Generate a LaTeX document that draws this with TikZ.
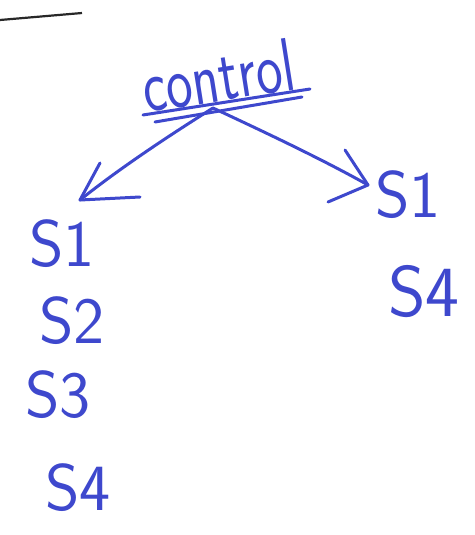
\documentclass[tikz,border=0pt]{standalone}
\usepackage{fontspec}
\begin{document}
\begin{tikzpicture}[x=1pt,y=-1pt,
  ink/.style={draw={rgb,255:red,62;green,72;blue,205},line width=3pt,line cap=round,line join=round},
  lbl/.style={text={rgb,255:red,62;green,72;blue,205},inner sep=0pt,font=\sffamily\fontsize{66}{66}\selectfont},
]
\useasboundingbox (0,0) rectangle (474,535);
% top-left pencil stroke
\coordinate (pa) at (0,20);
\coordinate (pb) at (82,13);
\draw[line width=2.2pt,draw={rgb,255:red,40;green,40;blue,40}] (pa) -- (pb);
% control
\node[lbl,rotate=9,font=\sffamily\fontsize{56}{56}\selectfont,anchor=base,yscale=1.35] (ctl) at (222,101) {control};
\coordinate (u1a) at (143,115); \coordinate (u1b) at (310,89);
\coordinate (u2a) at (155,122); \coordinate (u2b) at (302,97);
\draw[ink] (u1a) -- (u1b);
\draw[ink] (u2a) -- (u2b);
% arrows
\coordinate (hub) at (213,108);
\coordinate (ltip) at (80,200);
\coordinate (rtip) at (368,185);
\draw[ink] (hub) .. controls (170,135) and (120,168) .. (ltip);
\draw[ink] (ltip) -- ++(20,-37);
\draw[ink] (ltip) -- ++(60,-3);
\draw[ink] (hub) .. controls (260,130) and (320,158) .. (rtip);
\draw[ink] (rtip) -- ++(-23,-35);
\draw[ink] (rtip) -- ++(-40,17);
% left column
\node[lbl] (l1) at (62,244) {S1};
\node[lbl] (l2) at (72,321) {S2};
\node[lbl] (l3) at (58,395) {S3};
\node[lbl] (l4) at (78,488) {S4};
% right column
\node[lbl] (r1) at (408,195) {S1};
\node[lbl,font=\sffamily\fontsize{72}{72}\selectfont] (r4) at (424,292) {S4};
\end{tikzpicture}
\end{document}
